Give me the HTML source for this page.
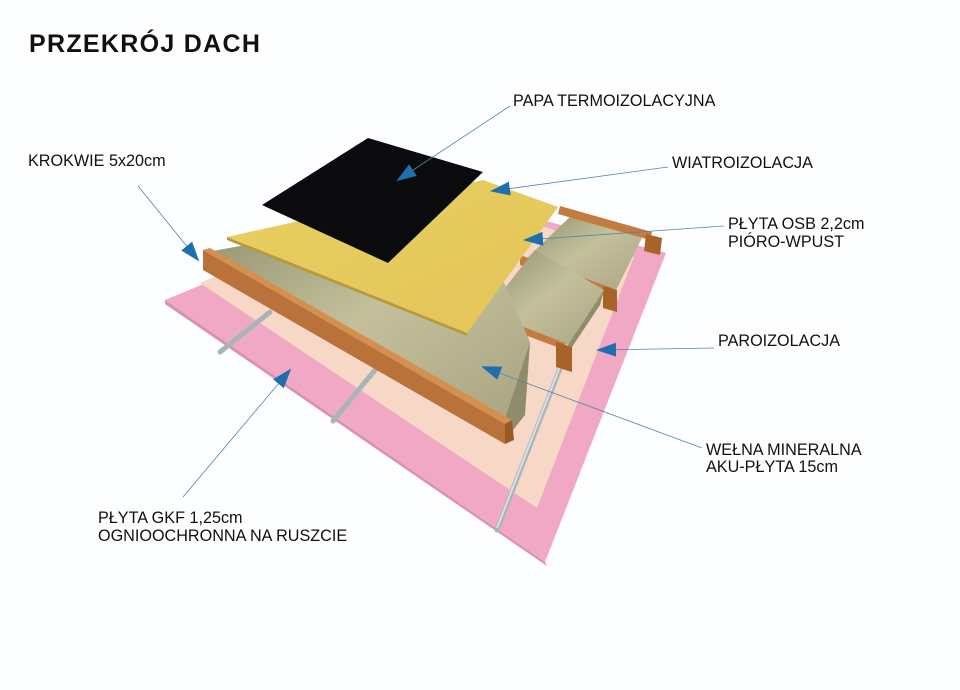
<!DOCTYPE html>
<html><head><meta charset="utf-8"><style>
html,body{margin:0;padding:0;background:#fdfeff;}
svg{display:block}
text{font-family:"Liberation Sans",sans-serif;fill:#111;}
</style></head><body>
<svg width="960" height="690" viewBox="0 0 960 690" xmlns="http://www.w3.org/2000/svg">
<defs>
<linearGradient id="wool" x1="0" y1="0" x2="1" y2="1">
<stop offset="0" stop-color="#8f8f6c"/><stop offset="0.5" stop-color="#c4c09c"/><stop offset="1" stop-color="#a9a582"/>
</linearGradient>
<linearGradient id="osb" x1="0" y1="0" x2="1" y2="1">
<stop offset="0" stop-color="#e8d060"/><stop offset="1" stop-color="#e3c45a"/>
</linearGradient>
<marker id="ar" viewBox="0 0 20 14" refX="18" refY="7" markerWidth="20" markerHeight="14" markerUnits="userSpaceOnUse" orient="auto">
<path d="M0,0 L20,7 L0,14 z" fill="#1f6fae"/></marker>
</defs>
<text x="29" y="52" font-size="25" font-weight="bold" style="letter-spacing:1.3px">PRZEKRÓJ DACH</text>

<!-- pink GKF board -->
<polygon points="165,300 430,190 666,253 545,562" fill="#f0a8c4"/>
<polygon points="165,300 545,562 547,566 165,304" fill="#d991ae"/>
<!-- beige vapour layer -->
<polygon points="200,283 420,185 634,257 537,508" fill="#f7d7c6"/>
<!-- metal channels -->
<g stroke="#a8b4b8" stroke-width="5" stroke-linecap="round">
<line x1="220" y1="352" x2="270" y2="312"/>
<line x1="333" y1="421" x2="375" y2="370"/>
<line x1="497" y1="530" x2="600" y2="266"/>
</g>
<g stroke="#d8e0e2" stroke-width="2"><line x1="497" y1="528" x2="600" y2="264"/></g>
<!-- back wool -->
<polygon points="523,262 575,212 642,238 615,292" fill="url(#wool)"/>
<!-- back rafter 4 -->
<polygon points="560,206 652,232 650,240 558,214" fill="#c27c40"/>
<polygon points="646,234 662,238 660,255 644,251" fill="#a86328"/>
<!-- rafter 3 -->
<polygon points="520,255 612,288 612,298 520,265" fill="#c27c40"/>
<polygon points="603,286 617,290 617,312 603,308" fill="#a86328"/>
<!-- middle wool -->
<polygon points="485,313 535,250 604,290 568,345" fill="url(#wool)"/>
<polygon points="568,345 604,290 600,305 570,350" fill="#8f8c6c"/>
<!-- rafter 2 -->
<polygon points="485,312 565,343 565,350 485,320" fill="#c27c40"/>
<polygon points="556,342 572,347 572,372 556,367" fill="#a86328"/>
<!-- front wool -->
<polygon points="207,252 470,205 530,342 505,418" fill="url(#wool)"/>
<polygon points="530,342 505,418 505,440 525,415" fill="#8f8c6c"/>
<!-- front rafter -->
<polygon points="203,250 210,248 512,420 505,424" fill="#d58f4f"/>
<polygon points="203,250 505,424 505,444 203,270" fill="#b8723a"/>
<polygon points="505,424 512,420 514,440 505,444" fill="#9a5a25"/>
<!-- OSB -->
<polygon points="227,237 483,180 558,207 467,333" fill="url(#osb)"/>
<polygon points="227,237 467,333 467,336 227,240" fill="#b89a3a"/>
<!-- black paper -->
<polygon points="262,205 368,138 483,172 388,263" fill="#0b0b0d"/>

<!-- leader lines -->
<g stroke="#4f86a8" stroke-width="0.8" fill="none">
<line x1="510" y1="106" x2="398" y2="180" marker-end="url(#ar)"/>
<line x1="668" y1="167" x2="492" y2="191" marker-end="url(#ar)"/>
<line x1="724" y1="226" x2="525" y2="240" marker-end="url(#ar)"/>
<line x1="714" y1="348" x2="598" y2="350" marker-end="url(#ar)"/>
<line x1="702" y1="448" x2="483" y2="367" marker-end="url(#ar)"/>
<line x1="138" y1="186" x2="198" y2="260" marker-end="url(#ar)"/>
<line x1="183" y1="497" x2="290" y2="370" marker-end="url(#ar)"/>
</g>

<g font-size="16.2">
<text x="513" y="106">PAPA TERMOIZOLACYJNA</text>
<text x="672" y="168">WIATROIZOLACJA</text>
<text x="728" y="229">PŁYTA OSB 2,2cm</text>
<text x="728" y="247">PIÓRO-WPUST</text>
<text x="718" y="346">PAROIZOLACJA</text>
<text x="706" y="455">WEŁNA MINERALNA</text>
<text x="706" y="472">AKU-PŁYTA 15cm</text>
<text x="28" y="166">KROKWIE 5x20cm</text>
<text x="98" y="523">PŁYTA GKF 1,25cm</text>
<text x="98" y="541">OGNIOOCHRONNA NA RUSZCIE</text>
</g>
</svg>
</body></html>
